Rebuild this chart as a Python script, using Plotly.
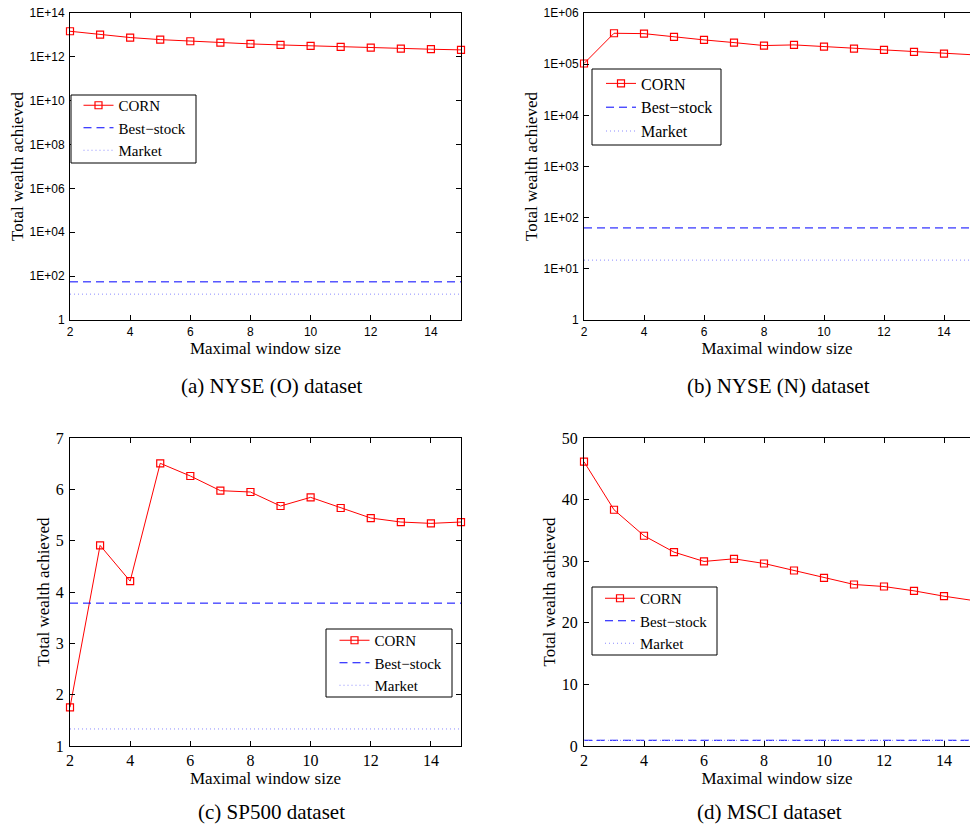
import plotly.graph_objects as go

# ---------------- data ----------------
window_sizes = [2, 3, 4, 5, 6, 7, 8, 9, 10, 11, 12, 13, 14, 15]

nyse_o_corn = [1.47e13, 1.03e13, 7.6e12, 6.1e12, 5.15e12, 4.5e12, 3.9e12,
               3.5e12, 3.16e12, 2.85e12, 2.65e12, 2.39e12, 2.23e12, 2.08e12]
nyse_o_best = 54.9
nyse_o_market = 15.1

nyse_n_corn = [1.03e5, 4.02e5, 3.95e5, 3.4e5, 2.98e5, 2.64e5, 2.31e5,
               2.38e5, 2.21e5, 2.02e5, 1.9e5, 1.74e5, 1.61e5, 1.52e5]
nyse_n_best = 63.0
nyse_n_market = 14.8

sp500_corn = [1.754, 4.908, 4.212, 6.507, 6.26, 5.974, 5.948,
              5.675, 5.844, 5.636, 5.441, 5.363, 5.337, 5.363]
sp500_best = 3.783
sp500_market = 1.332

msci_corn = [46.15, 38.35, 34.13, 31.47, 29.96, 30.39, 29.63,
             28.49, 27.30, 26.22, 25.89, 25.19, 24.32, 23.6]
msci_best = 0.93
msci_market = 0.91

series_names = ["CORN", "Best\u2212stock", "Market"]
captions = ["(a) NYSE (O) dataset", "(b) NYSE (N) dataset",
            "(c) SP500 dataset", "(d) MSCI dataset"]
x_title = "Maximal window size"
y_title = "Total wealth achieved"

log_a_vals = [1, 1e2, 1e4, 1e6, 1e8, 1e10, 1e12, 1e14]
log_a_text = ["1", "1E+02", "1E+04", "1E+06", "1E+08", "1E+10", "1E+12", "1E+14"]
log_b_vals = [1, 1e1, 1e2, 1e3, 1e4, 1e5, 1e6]
log_b_text = ["1", "1E+01", "1E+02", "1E+03", "1E+04", "1E+05", "1E+06"]
x_ticks = [2, 4, 6, 8, 10, 12, 14]

# ---------------- layout geometry (screen pixels) ----------------
W, H = 970, 826
SERIF = "Liberation Serif, Times New Roman, serif"
SANS = "Liberation Sans, Arial, sans-serif"

def fx(px):
    return px / W

def fy(py):
    return (H - py) / H

# right-hand panels run past the page edge: x = 15 would sit at 974 px,
# so the visible part (up to 970 px) shows x in [2, 2 + 386/30]
RIGHT_XMAX = 2 + (970 - 584) / 30.0

dom = {
    1: dict(x=[fx(70), fx(461)], y=[fy(320), fy(13)]),
    2: dict(x=[fx(584), 1.0], y=[fy(320), fy(13)]),
    3: dict(x=[fx(70), fx(461)], y=[fy(746), fy(438)]),
    4: dict(x=[fx(584), 1.0], y=[fy(746), fy(438)]),
}

panels = [
    (1, nyse_o_corn, nyse_o_best, nyse_o_market),
    (2, nyse_n_corn, nyse_n_best, nyse_n_market),
    (3, sp500_corn, sp500_best, sp500_market),
    (4, msci_corn, msci_best, msci_market),
]

# legend anchor (left, top) in screen px, font size; boxes drawn as shapes
legend_pos = {1: (78.5, 89, 15), 2: (601, 66.5, 16), 3: (334.5, 624, 15), 4: (600, 582, 15)}
legend_box = {1: (71, 95, 196, 163), 2: (592, 69, 721, 145),
              3: (326, 629, 452, 697), 4: (592, 587, 717, 655)}

fig = go.Figure()

for i, corn, best, market in panels:
    xa = "x" if i == 1 else f"x{i}"
    ya = "y" if i == 1 else f"y{i}"
    lg = "legend" if i == 1 else f"legend{i}"
    fig.add_trace(go.Scatter(
        x=window_sizes, y=corn, name=series_names[0], mode="lines+markers",
        line=dict(color="#ff0000", width=1),
        marker=dict(symbol="square-open", size=7, color="#ff0000",
                    line=dict(width=1.2, color="#ff0000")),
        xaxis=xa, yaxis=ya, legend=lg, cliponaxis=False))
    fig.add_trace(go.Scatter(
        x=window_sizes, y=[best] * len(window_sizes), name=series_names[1],
        mode="lines", line=dict(color="#0000ff", width=1, dash="8px,5px"),
        xaxis=xa, yaxis=ya, legend=lg))
    fig.add_trace(go.Scatter(
        x=window_sizes, y=[market] * len(window_sizes), name=series_names[2],
        mode="lines", line=dict(color="#8c8cff", width=1, dash="1px,3px"),
        xaxis=xa, yaxis=ya, legend=lg))

layout = dict(
    template="none",
    width=W, height=H,
    margin=dict(l=0, r=0, t=0, b=0, autoexpand=False),
    paper_bgcolor="white", plot_bgcolor="white",
    showlegend=True,
)

for i in range(1, 5):
    xkey = "xaxis" if i == 1 else f"xaxis{i}"
    ykey = "yaxis" if i == 1 else f"yaxis{i}"
    anchor_x = "y" if i == 1 else f"y{i}"
    anchor_y = "x" if i == 1 else f"x{i}"
    log_panel = i in (1, 2)
    right_panel = i in (2, 4)
    layout[xkey] = dict(
        domain=dom[i]["x"], anchor=anchor_x,
        range=[2, RIGHT_XMAX] if right_panel else [2, 15], automargin=False,
        tickvals=x_ticks, ticks="inside", ticklen=5, tickcolor="black",
        ticklabelstandoff=1 if log_panel else 0, ticklabeloverflow="allow",
        showline=True, linecolor="black", linewidth=1, mirror="ticks",
        showgrid=False, zeroline=False,
        tickfont=dict(family=SANS if log_panel else SERIF,
                      size=12 if log_panel else 16, color="black"),
        title=dict(text=x_title, font=dict(family=SERIF, size=17, color="black"),
                   standoff=0),
    )
    if i == 1:
        yax = dict(type="log", range=[0, 14], tickvals=log_a_vals, ticktext=log_a_text,
                   tickfont=dict(family=SANS, size=12, color="black"))
    elif i == 2:
        yax = dict(type="log", range=[0, 6], tickvals=log_b_vals, ticktext=log_b_text,
                   tickfont=dict(family=SANS, size=12, color="black"))
    elif i == 3:
        yax = dict(range=[1, 7], tickvals=[1, 2, 3, 4, 5, 6, 7],
                   tickfont=dict(family=SERIF, size=16, color="black"))
    else:
        yax = dict(range=[0, 50], tickvals=[0, 10, 20, 30, 40, 50],
                   tickfont=dict(family=SERIF, size=16, color="black"))
    yax.update(dict(
        domain=dom[i]["y"], anchor=anchor_y, automargin=False,
        ticks="inside", ticklen=5, tickcolor="black", ticklabelstandoff=2,
        ticklabeloverflow="allow",
        showline=True, linecolor="black", linewidth=1,
        mirror=False if right_panel else "ticks",
        showgrid=False, zeroline=False,
        title=dict(text=y_title, font=dict(family=SERIF, size=17, color="black"),
                   standoff=1),
    ))
    layout[ykey] = yax
    lkey = "legend" if i == 1 else f"legend{i}"
    lx, ly, lfs = legend_pos[i]
    layout[lkey] = dict(
        x=fx(lx), y=fy(ly), xanchor="left", yanchor="top",
        bgcolor="rgba(0,0,0,0)", borderwidth=0,
        font=dict(family=SERIF, size=lfs, color="black"),
        tracegroupgap=0, itemwidth=30,
    )

fig.update_layout(**layout)

for i in range(1, 5):
    x0, y0, x1, y1 = legend_box[i]
    fig.add_shape(type="rect", xref="paper", yref="paper",
                  x0=fx(x0), x1=fx(x1), y0=fy(y1), y1=fy(y0),
                  line=dict(color="black", width=1), fillcolor="white", layer="above")

cap_pos = [(272, 385.5), (778, 385.5), (271, 811.5), (769, 811.5)]
for (cx, cy), text in zip(cap_pos, captions):
    fig.add_annotation(x=fx(cx), y=fy(cy), xref="paper", yref="paper",
                       text=text, showarrow=False, xanchor="center", yanchor="middle",
                       font=dict(family=SERIF, size=21, color="black"))

fig.write_html(
    "out.html",
    config={"displayModeBar": False},
    post_script="document.body.style.margin='0';document.body.style.overflow='hidden';",
)
